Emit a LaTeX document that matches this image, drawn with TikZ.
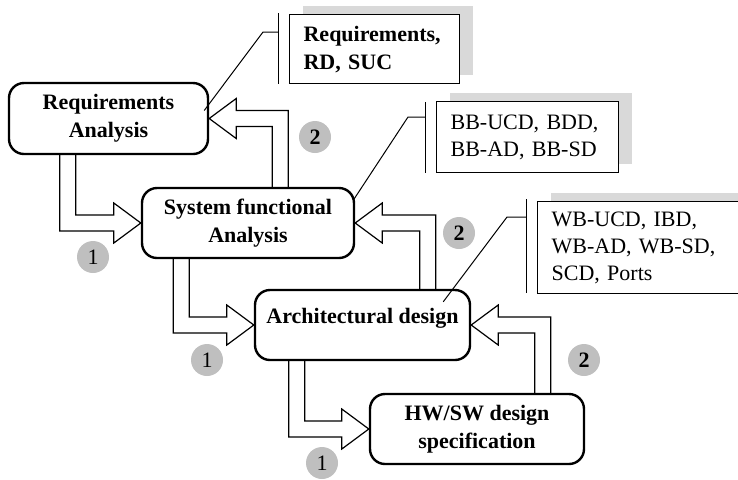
\documentclass[tikz,border=0pt]{standalone}
\usepackage{fontspec}
\setmainfont{Liberation Serif}
\usepackage{tikz}
\usetikzlibrary{calc}
\usetikzlibrary{shadows}
\tikzset{stage/.style={draw, line width=1.2pt, rounded corners=7.5pt, fill=white,
  align=center, inner sep=0pt, minimum width=106pt, minimum height=35pt,
  font=\fontsize{11}{14}\selectfont\bfseries}}
\tikzset{doc/.style={draw, line width=0.6pt, fill=white, anchor=north west,
  align=left, inner xsep=7pt, inner ysep=0pt, font=\fontsize{11}{13.5}\selectfont,
  drop shadow={shadow xshift=6.5pt, shadow yshift=4.5pt, fill=black!15, opacity=1}}}
\tikzset{nr/.style={circle, fill=black!25, minimum size=16pt, inner sep=0pt,
  font=\fontsize{11}{11}\selectfont}}
\tikzset{blk/.style={line width=0.6pt}}
% block arrow: down from the bottom of #1 (shaft #3 from its left side), then right into #2
\newcommand{\fwdarrow}[3]{
  \draw[blk] let \p1=($(#1.south west)+(#3,0)$), \p2=(#2.west) in
    (\x1-4pt,\y1) |- (\x2-13.5pt,\y2-4pt) -- (\x2-13.5pt,\y2-10pt) -- (\x2,\y2)
    -- (\x2-13.5pt,\y2+10pt) -- (\x2-13.5pt,\y2+4pt) -| (\x1+4pt,\y1);
}
% block arrow: up from the top of #1 (shaft #3 from its left side), then left into #2
\newcommand{\backarrow}[3]{
  \draw[blk] let \p1=($(#1.north west)+(#3,0)$), \p2=(#2.east) in
    (\x1+4pt,\y1) |- (\x2+13.5pt,\y2+4pt) -- (\x2+13.5pt,\y2+10pt) -- (\x2,\y2)
    -- (\x2+13.5pt,\y2-10pt) -- (\x2+13.5pt,\y2-4pt) -| (\x1-4pt,\y1);
}
\begin{document}
\begin{tikzpicture}[x=0.5pt, y=-0.5pt]
  \useasboundingbox (0,0) rectangle (738,479);
  \clip (0,0) rectangle (738,479);

  % stages
  \node[stage, minimum width=99.5pt, minimum height=35.5pt] (ra) at (108.5,118.5) {Requirements\\Analysis};
  \node[stage] (sf) at (248,223) {System functional\\Analysis};
  \node[stage, minimum width=107.5pt, text height=8pt, text depth=9.5pt] (ad) at (362.5,325) {Architectural design};
  \node[stage, minimum width=107pt] (hw) at (477,429) {HW/SW design\\specification};

  % work products
  \node[doc, text width=71pt, minimum height=34.5pt, font=\fontsize{11}{14}\selectfont\bfseries] (d1) at (289,14) {Requirements,\\RD, SUC};
  \node[doc, text width=77pt, minimum height=35.5pt] (d2) at (436,101) {BB-UCD, BDD,\\BB-AD, BB-SD};
  \node[doc, text width=93.5pt, minimum height=46pt] (d3) at (537,201) {WB-UCD, IBD,\\WB-AD, WB-SD,\\SCD, Ports};

  % callouts
  \draw[line width=0.5pt] ($(ra.east)+(-5,-8)$) -- ($(d1.north west)+(-26,18)$) -- ($(d1.north west)+(-11,18)$);
  \draw[line width=0.5pt] ($(d1.north west)+(-11,-1)$) -- ($(d1.south west)+(-11,0)$);
  \draw[line width=0.5pt] ($(sf.north east)+(-1,12)$) -- ($(d2.north west)+(-28,16)$) -- ($(d2.north west)+(-11,16)$);
  \draw[line width=0.5pt] ($(d2.north west)+(-11,1)$) -- ($(d2.south west)+(-11,0)$);
  \draw[line width=0.5pt] ($(ad.north east)+(-28,13)$) -- ($(d3.north west)+(-30,16)$) -- ($(d3.north west)+(-11,16)$);
  \draw[line width=0.5pt] ($(d3.north west)+(-11,-2)$) -- ($(d3.south west)+(-11,-1)$);

  % flow down and back
  \fwdarrow{ra}{sf}{60}
  \fwdarrow{sf}{ad}{40.5}
  \fwdarrow{ad}{hw}{43}
  \backarrow{sf}{ra}{139.5}
  \backarrow{ad}{sf}{174}
  \backarrow{hw}{ad}{174}

  % step numbers
  \node[nr] (f1) at (93,257) {1};
  \node[nr] (f2) at (207,360) {1};
  \node[nr] (f3) at (322,463) {1};
  \node[nr, font=\fontsize{11}{11}\selectfont\bfseries] (b1) at (315,137) {2};
  \node[nr, font=\fontsize{11}{11}\selectfont\bfseries] (b2) at (459,233) {2};
  \node[nr, font=\fontsize{11}{11}\selectfont\bfseries] (b3) at (584,360) {2};
\end{tikzpicture}
\end{document}
